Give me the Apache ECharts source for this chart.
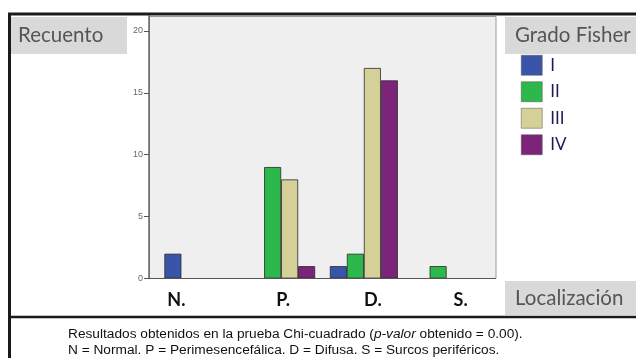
<!DOCTYPE html>
<html><head><meta charset="utf-8">
<script src="https://cdn.jsdelivr.net/npm/echarts@6/dist/echarts.min.js"></script>
<style>html,body{margin:0;padding:0;background:#fff}#c{width:636px;height:358px}</style>
</head><body><div id="c"></div>
<script>
var categories = ['N.', 'P.', 'D.', 'S.'];
var grades = ['I', 'II', 'III', 'IV'];
var gradeI = [2, 0, 1, 0];
var gradeII = [0, 9, 2, 1];
var gradeIII = [0, 8, 17, 0];
var gradeIV = [0, 1, 16, 0];
var yTicks = [0, 5, 10, 15, 20];
var colors = ['#3a55a8', '#2db84b', '#d5cf98', '#7b2479'];
var labelPad = [[0, 44, 0, 0], [0, 0, 0, 4], [0, 0, 0, 18], [0, 0, 0, 28]];

var chart = echarts.init(document.getElementById('c'), null, {renderer: 'canvas'});
var seriesData = [gradeI, gradeII, gradeIII, gradeIV];
var series = grades.map(function (g, i) {
  return {
    name: g, type: 'bar', data: seriesData[i], barWidth: 17, barGap: '0%',
    itemStyle: {color: colors[i], borderColor: '#2a2a2a', borderWidth: 0.8},
    z: 3
  };
});
var boxFont = 'Lato, "Open Sans", sans-serif';
chart.setOption({
  animation: false,
  grid: {left: 157, right: 148, top: 16, bottom: 79.5, containLabel: false},
  xAxis: {
    type: 'category',
    data: categories.map(function (c, i) { return {value: c, textStyle: {padding: labelPad[i]}}; }),
    axisLine: {show: false}, axisTick: {show: false},
    axisLabel: {margin: 13, fontSize: 18, fontWeight: 'bold', color: '#111', fontFamily: boxFont}
  },
  yAxis: {
    type: 'value', min: 0, max: 21.2, interval: 5, offset: 8,
    splitLine: {show: false},
    axisLine: {show: true, lineStyle: {color: '#666', width: 1.5}},
    axisTick: {show: true, length: 5, customValues: yTicks, lineStyle: {color: '#555'}},
    axisLabel: {fontSize: 9, color: '#666', margin: 6, customValues: yTicks, fontFamily: 'Liberation Sans, Arial'}
  },
  legend: {
    data: grades, orient: 'vertical', left: 516, top: 50,
    itemWidth: 21, itemHeight: 20, itemGap: 6, icon: 'rect',
    textStyle: {fontSize: 17, color: '#1c1c50', fontFamily: boxFont, padding: [0, 0, 0, 3]},
    itemStyle: {borderColor: '#555', borderWidth: 0.5}
  },
  series: series,
  graphic: [
    {type: 'rect', z: -10, shape: {x: 149.5, y: 16.5, width: 346.5, height: 262}, style: {fill: '#efefef', stroke: '#9a9a9a', lineWidth: 1}},
    {type: 'line', z: 10, shape: {x1: 149, y1: 278.5, x2: 496, y2: 278.5}, style: {stroke: '#555', lineWidth: 1}},
    {type: 'rect', z: 5, shape: {x: 9.5, y: 14, width: 640, height: 360}, style: {fill: null, stroke: '#1a1a1a', lineWidth: 3}},
    {type: 'line', z: 5, shape: {x1: 9, y1: 317, x2: 636, y2: 317}, style: {stroke: '#1a1a1a', lineWidth: 2.5}},
    {type: 'rect', z: 1, shape: {x: 11, y: 17, width: 116, height: 37}, style: {fill: '#d9d9d9'}},
    {type: 'text', z: 2, x: 18, y: 35.5, style: {text: 'Recuento', font: '20.5px ' + boxFont, fill: '#555', verticalAlign: 'middle'}},
    {type: 'rect', z: 1, shape: {x: 505, y: 17, width: 131, height: 37}, style: {fill: '#d9d9d9'}},
    {type: 'text', z: 2, x: 515, y: 35.5, style: {text: 'Grado Fisher', font: '20.5px ' + boxFont, fill: '#555', verticalAlign: 'middle'}},
    {type: 'rect', z: 1, shape: {x: 505, y: 281, width: 131, height: 34}, style: {fill: '#d9d9d9'}},
    {type: 'text', z: 2, x: 515, y: 298, style: {text: 'Localización', font: '20.5px ' + boxFont, fill: '#555', verticalAlign: 'middle'}},
    {type: 'text', z: 2, x: 68, y: 342, style: {
      text: '{n|Resultados obtenidos en la prueba Chi-cuadrado (}{i|p-valor}{n| obtenido = 0.00).}\n{n|N = Normal. P = Perimesencefálica. D = Difusa. S = Surcos periféricos.}',
      verticalAlign: 'middle', lineHeight: 16,
      rich: {
        n: {fontSize: 13.7, fontFamily: 'Liberation Sans, Arial', fill: '#111', lineHeight: 16},
        i: {fontSize: 13.7, fontFamily: 'Liberation Sans, Arial', fontStyle: 'italic', fill: '#111', lineHeight: 16}
      }
    }}
  ]
});
</script></body></html>
